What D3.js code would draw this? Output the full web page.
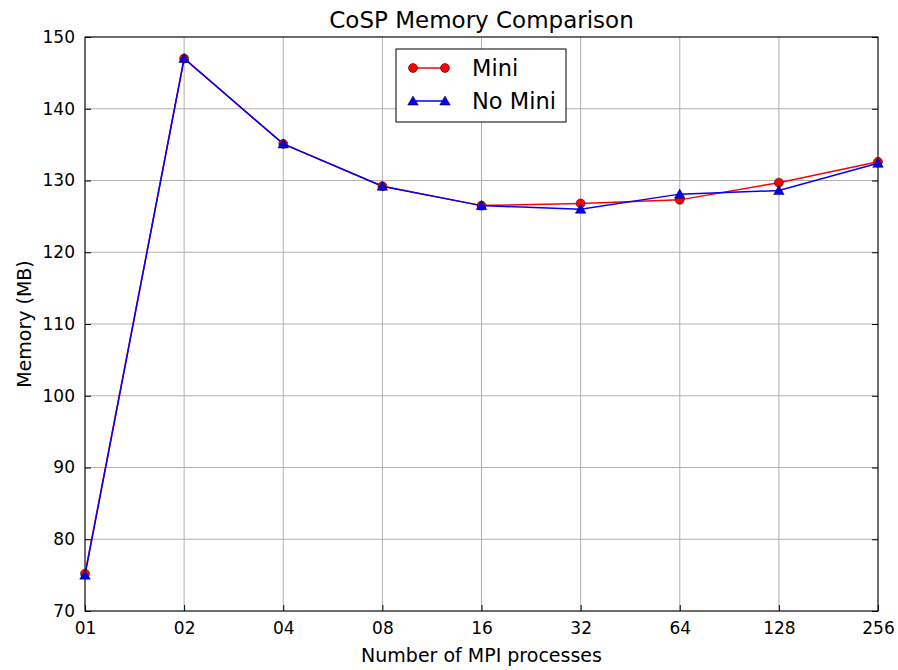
<!DOCTYPE html>
<html>
<head>
<meta charset="utf-8">
<script src="https://cdn.jsdelivr.net/npm/d3@7"></script>
<style>
  body { margin: 0; background: #fff; }
  text { font-family: "DejaVu Sans", sans-serif; }
</style>
</head>
<body>
<svg width="898" height="670"></svg>
<script>
const width = 898;
const height = 670;
const margin = { top: 37, right: 20, bottom: 59, left: 85 };

const procs = ["01", "02", "04", "08", "16", "32", "64", "128", "256"];
const miniMem = [75.2, 147.0, 135.1, 129.2, 126.5, 126.8, 127.3, 129.7, 132.6];
const noMiniMem = [75.0, 147.0, 135.1, 129.2, 126.5, 126.0, 128.1, 128.6, 132.4];
const yTicks = [70, 80, 90, 100, 110, 120, 130, 140, 150];

const innerW = width - margin.left - margin.right;
const innerH = height - margin.top - margin.bottom;

const svg = d3.select("svg");
const g = svg.append("g")
    .attr("transform", `translate(${margin.left}, ${margin.top})`);

const x = d3.scalePoint().domain(procs).range([0, innerW]);
const y = d3.scaleLinear().domain([70, 150]).range([innerH, 0]);

// grid
g.append("g")
    .selectAll("line")
    .data(yTicks)
    .enter()
    .append("line")
    .attr("x1", 0).attr("x2", innerW)
    .attr("y1", (d) => y(d)).attr("y2", (d) => y(d))
    .attr("stroke", "#b0b0b0").attr("stroke-width", 1);
g.append("g")
    .selectAll("line")
    .data(procs)
    .enter()
    .append("line")
    .attr("x1", (d) => x(d)).attr("x2", (d) => x(d))
    .attr("y1", 0).attr("y2", innerH)
    .attr("stroke", "#b0b0b0").attr("stroke-width", 1);

// axes (ticks pointing inward)
g.append("g")
    .attr("transform", `translate(0, ${innerH})`)
    .call(d3.axisBottom(x).tickSizeInner(-6).tickSizeOuter(0).tickPadding(11))
    .call((a) => a.select(".domain").remove())
    .call((a) => a.selectAll("text").attr("font-size", 17).attr("fill", "#000"));
g.append("g")
    .call(d3.axisLeft(y).tickValues(yTicks).tickSizeInner(-6).tickSizeOuter(0).tickPadding(10))
    .call((a) => a.select(".domain").remove())
    .call((a) => a.selectAll("text").attr("font-size", 17).attr("fill", "#000"));
g.append("g")
    .attr("transform", `translate(${innerW}, 0)`)
    .call(d3.axisRight(y).tickValues(yTicks).tickSizeInner(-6).tickSizeOuter(0).tickFormat(""))
    .call((a) => a.select(".domain").remove());

g.append("rect")
    .attr("width", innerW).attr("height", innerH)
    .attr("fill", "none").attr("stroke", "#000").attr("stroke-width", 1);

// series
const line = d3.line().x((d, i) => x(procs[i])).y((d) => y(d));

g.append("path")
    .datum(miniMem)
    .attr("d", line)
    .attr("fill", "none").attr("stroke", "#ff0000").attr("stroke-width", 1.5);
g.append("path")
    .datum(noMiniMem)
    .attr("d", line)
    .attr("fill", "none").attr("stroke", "#0000ff").attr("stroke-width", 1.5);

g.append("g")
    .selectAll("circle")
    .data(miniMem)
    .enter()
    .append("circle")
    .attr("cx", (d, i) => x(procs[i]))
    .attr("cy", (d) => y(d))
    .attr("r", 4.5)
    .attr("fill", "#ff0000").attr("stroke", "#000").attr("stroke-width", 0.5);

const tri = d3.symbol().type(d3.symbolTriangle).size(48);
g.append("g")
    .selectAll("path")
    .data(noMiniMem)
    .enter()
    .append("path")
    .attr("d", tri)
    .attr("transform", (d, i) => `translate(${x(procs[i])}, ${y(d) + 1})`)
    .attr("fill", "#0000ff").attr("stroke", "#000").attr("stroke-width", 0.5);

// legend
const legend = svg.append("g").attr("transform", "translate(396, 49)");
legend.append("rect")
    .attr("width", 170).attr("height", 73)
    .attr("fill", "#fff").attr("stroke", "#000").attr("stroke-width", 1);
const items = [
    { label: "Mini", color: "#ff0000", shape: "circle" },
    { label: "No Mini", color: "#0000ff", shape: "triangle" },
];
items.forEach((it, i) => {
    const row = legend.append("g").attr("transform", `translate(0, ${19 + i * 33})`);
    row.append("line")
        .attr("x1", 17).attr("x2", 49)
        .attr("stroke", it.color).attr("stroke-width", 1.5);
    [17, 49].forEach((cx) => {
        if (it.shape === "circle") {
            row.append("circle").attr("cx", cx).attr("r", 4.5)
                .attr("fill", it.color).attr("stroke", "#000").attr("stroke-width", 0.5);
        } else {
            row.append("path").attr("d", tri).attr("transform", `translate(${cx}, 1)`)
                .attr("fill", it.color).attr("stroke", "#000").attr("stroke-width", 0.5);
        }
    });
    row.append("text")
        .attr("x", 76).attr("y", 8)
        .attr("font-size", 22.5)
        .text(it.label);
});

// titles
svg.append("text")
    .attr("x", margin.left + innerW / 2).attr("y", 28)
    .attr("text-anchor", "middle").attr("font-size", 23)
    .text("CoSP Memory Comparison");
svg.append("text")
    .attr("x", margin.left + innerW / 2).attr("y", 662)
    .attr("text-anchor", "middle").attr("font-size", 19)
    .text("Number of MPI processes");
svg.append("text")
    .attr("transform", `translate(31, ${margin.top + innerH / 2}) rotate(-90)`)
    .attr("text-anchor", "middle").attr("font-size", 19)
    .text("Memory (MB)");
</script>
</body>
</html>
